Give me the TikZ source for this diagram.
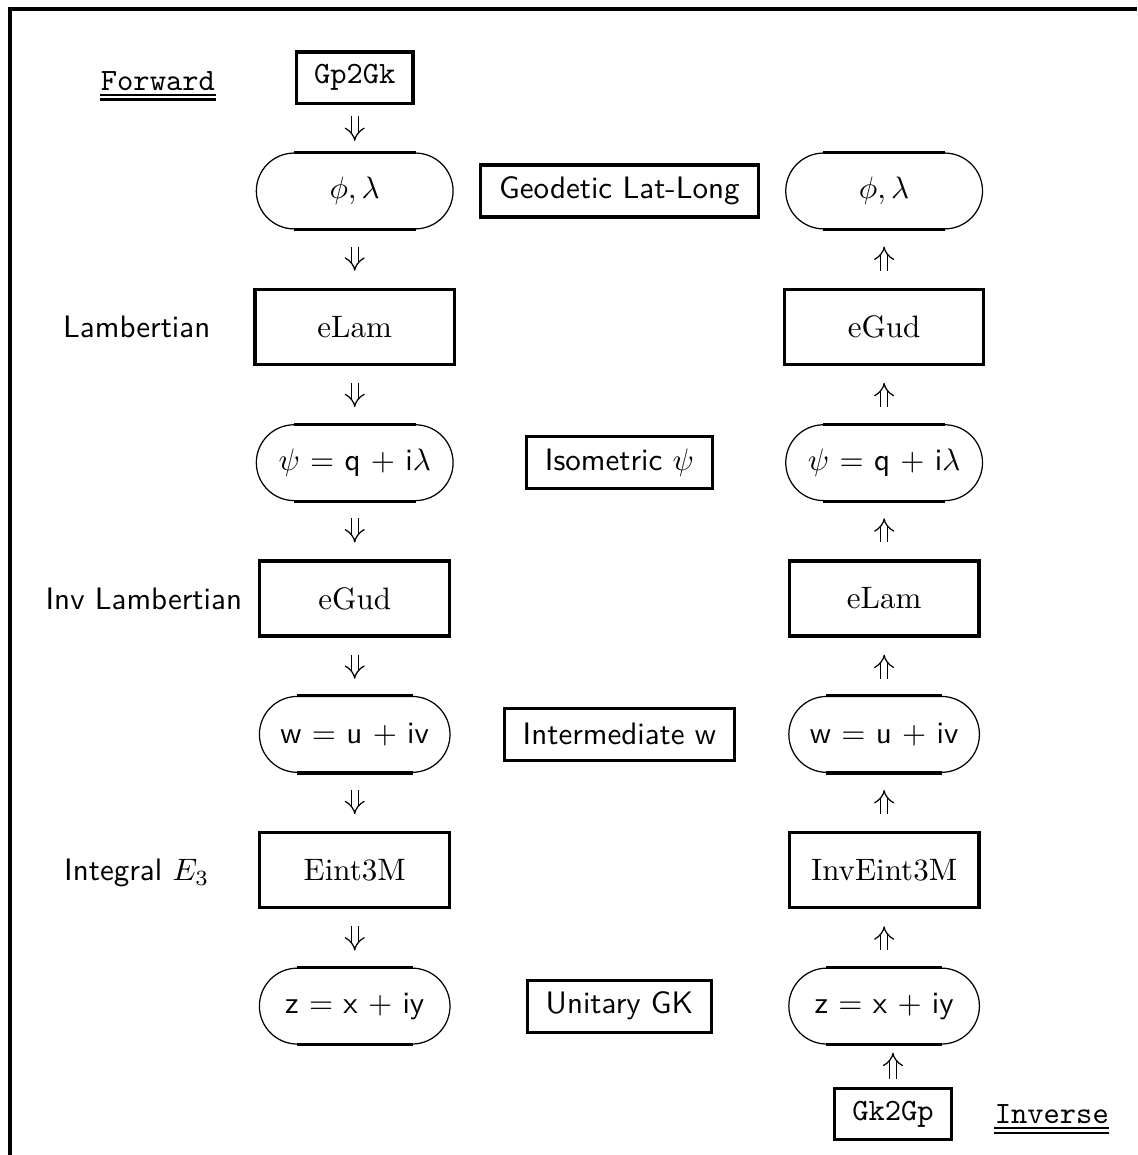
\documentclass[tikz,border=0pt]{standalone}
\usepackage{amsmath,amssymb}
\usepackage{tikz}
\usetikzlibrary{arrows.meta,positioning,calc}

\begin{document}
\begin{tikzpicture}[
    node distance=0.66cm,
    every node/.style={font=\normalsize},
    funcbox/.style={
        draw, rectangle, line width=1pt,
        minimum width=2.15cm,
        minimum height=0.85cm,
        align=center
    },
    pill/.style={
        draw, rectangle, line width=0.4pt,
        rounded corners=0.43cm,
        minimum width=2.23cm,
        minimum height=0.86cm,
        align=center,
        font=\sffamily
    },
    labelbox/.style={
        draw, rectangle, line width=1pt,
        font=\sffamily,
        minimum height=0.59cm,
        inner xsep=6pt
    },
    progbox/.style={
        draw, rectangle, line width=1pt,
        font=\ttfamily,
        minimum width=1.32cm,
        minimum height=0.58cm
    },
    title/.style={font=\ttfamily, inner sep=0pt},
    side/.style={font=\sffamily},
    flow/.style={
        double, double distance=1.9pt, line width=0.4pt,
        -{Implies[scale=1.35]},
        shorten <=5.5pt, shorten >=5.5pt
    },
    dunder/.style={line width=0.8pt}
]
\useasboundingbox (0,0) rectangle (12.89,-13.09);

%% ── Outer frame ───────────────────────────────────────
\draw[line width=1pt] (0.113,-13.09) -- (0.113,-0.102) -- (12.89,-0.102);

%% ── Forward chain (left column) ──────────────────────
\node[progbox] (gp2gk) at (4.02,-0.88) {Gp2Gk};
\node[title, left=0.9cm of gp2gk, yshift=-1pt] (fwd) {Forward};
\node[pill, below=0.54cm of gp2gk] (philamL) {$\phi, \lambda$};
\node[funcbox, minimum width=2.26cm, below=of philamL] (elamL) {eLam};
\node[pill, below=of elamL] (psiL) {$\psi$ = q + i$\lambda$};
\node[funcbox, below=of psiL] (egudL) {eGud};
\node[pill, minimum width=2.16cm, below=of egudL] (wL) {w = u + iv};
\node[funcbox, below=of wL] (eintL) {Eint3M};
\node[pill, minimum width=2.16cm, below=of eintL] (zL) {z = x + iy};

%% ── Inverse chain (right column) ─────────────────────
\node[pill] (philamR) at ($(philamL)+(6cm,0)$) {$\phi, \lambda$};
\node[funcbox, minimum width=2.26cm, below=of philamR] (egudR) {eGud};
\node[pill, below=of egudR] (psiR) {$\psi$ = q + i$\lambda$};
\node[funcbox, below=of psiR] (elamR) {eLam};
\node[pill, minimum width=2.16cm, below=of elamR] (wR) {w = u + iv};
\node[funcbox, below=of wR] (eintR) {InvEint3M};
\node[pill, minimum width=2.16cm, below=of eintR] (zR) {z = x + iy};
\node[progbox, below=0.48cm of zR, xshift=0.1cm] (gk2gp) {Gk2Gp};
\node[title, right=0.47cm of gk2gp] (inv) {Inverse};

%% ── Double underlines of the two titles ──────────────
\foreach \t in {fwd,inv}{
    \draw[dunder] ([yshift=-1.5pt]\t.base west) -- ([yshift=-1.5pt]\t.base east);
    \draw[dunder] ([yshift=-3.1pt]\t.base west) -- ([yshift=-3.1pt]\t.base east);
}

%% ── Thick straight edges of the pills ────────────────
\foreach \n in {philamL,psiL,wL,zL,philamR,psiR,wR,zR}{
    \draw[line width=1pt] ([xshift=0.43cm]\n.north west) -- ([xshift=-0.43cm]\n.north east)
        ([xshift=0.43cm]\n.south west) -- ([xshift=-0.43cm]\n.south east);
}

%% ── Middle labels ────────────────────────────────────
\node[labelbox] (geo) at ($(philamL)!0.5!(philamR)$) {Geodetic Lat-Long};
\node[labelbox] (iso) at ($(psiL)!0.5!(psiR)$) {Isometric $\psi$};
\node[labelbox] (inter) at ($(wL)!0.5!(wR)$) {Intermediate w};
\node[labelbox] (unit) at ($(zL)!0.5!(zR)$) {Unitary GK};

%% ── Side labels ──────────────────────────────────────
\node[side, anchor=base] (lamb) at (1.55,0 |- elamL.base) {Lambertian};
\node[side, anchor=base] (invlamb) at (1.63,0 |- egudL.base) {Inv Lambertian};
\node[side, anchor=base] (integ) at (1.55,0 |- eintL.base) {Integral $E_3$};

%% ── Arrows ───────────────────────────────────────────
\draw[flow, shorten <=3.7pt, shorten >=3.7pt] (gp2gk) -- (philamL);
\foreach \a/\b in {philamL/elamL,elamL/psiL,psiL/egudL,egudL/wL,wL/eintL,eintL/zL}{
    \draw[flow] (\a) -- (\b);
}
\foreach \a/\b in {zR/eintR,eintR/wR,wR/elamR,elamR/psiR,psiR/egudR,egudR/philamR}{
    \draw[flow] (\a) -- (\b);
}
\draw[flow, shorten <=2.6pt, shorten >=2.6pt] (gk2gp.north) -- (gk2gp.north |- zR.south);

\end{tikzpicture}
\end{document}
